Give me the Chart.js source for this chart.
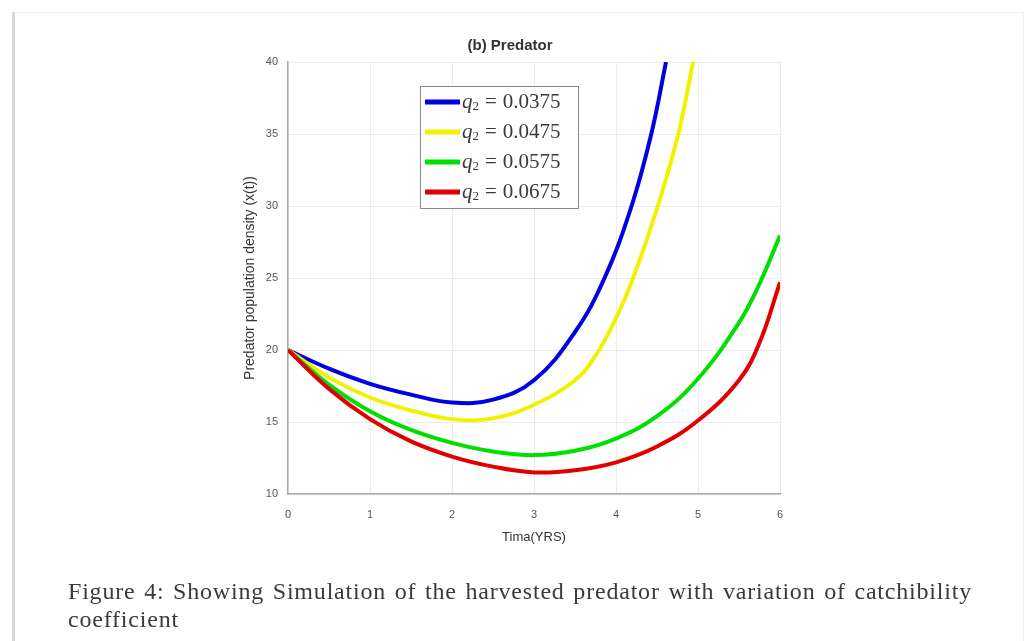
<!DOCTYPE html>
<html>
<head>
<meta charset="utf-8">
<script src="https://cdn.jsdelivr.net/npm/chart.js@4.4.1/dist/chart.umd.min.js"></script>
<style>
  html, body { margin: 0; padding: 0; background: #fff; }
  body { width: 1027px; height: 641px; position: relative; overflow: hidden; }
  #frame {
    position: absolute; left: 12px; top: 12px; width: 1012px; height: 640px;
    border-top: 1px solid #ebebeb; border-left: 3px solid #d6d6d6; border-right: 1px solid #f0f0f0;
    box-sizing: border-box; background: #fff;
  }
  #wrap { position: absolute; left: 0; top: 0; width: 1027px; height: 641px; }
  #caption {
    position: absolute; left: 68px; top: 577px; width: 904px;
    font-family: "Liberation Serif", "DejaVu Serif", serif; font-size: 24px; line-height: 28px;
    letter-spacing: 0.8px; color: #3a3a3a;
  }
  #caption .l1 { text-align: justify; text-align-last: justify; white-space: nowrap; }
</style>
</head>
<body>
<div id="frame"></div>
<div id="wrap"><canvas id="predator-canvas"></canvas></div>
<div id="caption">
  <div class="l1">Figure 4: Showing Simulation of the harvested predator with variation of catchibility</div>
  <div>coefficient</div>
</div>
<script>
// catchability coefficients q2
var qValues = ['0.0375', '0.0475', '0.0575', '0.0675'];
var lineColors = ['#0000e0', '#f2f200', '#00e000', '#e00000'];

// time (years) and predator density
var tBlue = [0, 0.5, 1, 1.5, 2, 2.5, 3, 3.5, 3.86, 4.19, 4.43, 4.61];
var yBlue = [20, 18.7, 17.65, 16.9, 16.35, 16.55, 17.9, 21.25, 25, 30, 35, 40];

var tYellow = [0, 0.5, 1, 1.5, 2, 2.5, 3, 3.5, 3.75, 4, 4.21, 4.51, 4.76, 4.94];
var yYellow = [20, 18.1, 16.7, 15.8, 15.2, 15.25, 16.2, 17.9, 19.6, 22.2, 25, 30, 35, 40];

var tGreen = [0, 0.5, 1, 1.5, 2, 2.5, 3, 3.5, 4, 4.5, 5, 5.5, 5.75, 6];
var yGreen = [20, 17.6, 15.75, 14.45, 13.55, 12.95, 12.7, 13.0, 13.85, 15.4, 18.0, 21.9, 24.6, 27.95];

var tRed = [0, 0.5, 1, 1.5, 2, 2.5, 3, 3.5, 4, 4.5, 5, 5.5, 5.75, 6];
var yRed = [20, 17.3, 15.2, 13.65, 12.6, 11.9, 11.5, 11.65, 12.2, 13.3, 15.1, 17.9, 20.5, 24.7];

var xTicks = [0, 1, 2, 3, 4, 5, 6];
var yTicks = [10, 15, 20, 25, 30, 35, 40];

function pts(t, y) {
    return t.map(function (v, i) { return { x: v, y: y[i] }; });
}

var series = [pts(tBlue, yBlue), pts(tYellow, yYellow), pts(tGreen, yGreen), pts(tRed, yRed)];

var datasets = series.map(function (d, i) {
    return {
        label: 'q2 = ' + qValues[i],
        data: d,
        borderColor: lineColors[i],
        borderWidth: 4,
        pointRadius: 0,
        fill: false,
        tension: 0.4,
        order: 4 - i
    };
});

// MATLAB style legend box inside the axes
var boxLegend = {
    id: 'boxLegend',
    afterDraw: function (chart) {
        var ctx = chart.ctx;
        var a = chart.chartArea;
        var x0 = a.left + 132, y0 = a.top + 24, w = 158, h = 122;
        ctx.save();
        ctx.fillStyle = '#fff';
        ctx.fillRect(x0, y0, w, h);
        ctx.strokeStyle = '#8a8a8a';
        ctx.lineWidth = 1;
        ctx.strokeRect(x0 + 0.5, y0 + 0.5, w, h);
        chart.data.datasets.forEach(function (ds, i) {
            var cy = y0 + 16 + i * 30;
            ctx.strokeStyle = ds.borderColor;
            ctx.lineWidth = 5;
            ctx.beginPath();
            ctx.moveTo(x0 + 5, cy);
            ctx.lineTo(x0 + 40, cy);
            ctx.stroke();
            ctx.fillStyle = '#3a3a3a';
            ctx.textBaseline = 'middle';
            var tx = x0 + 42;
            ctx.font = 'italic 21px "Liberation Serif", serif';
            ctx.fillText('q', tx, cy);
            tx += ctx.measureText('q').width;
            ctx.font = '13px "Liberation Serif", serif';
            ctx.fillText('2', tx, cy + 5);
            tx += ctx.measureText('2').width + 6;
            ctx.font = '21px "Liberation Serif", serif';
            ctx.fillText('=', tx, cy);
            tx += ctx.measureText('=').width + 6;
            ctx.fillText(qValues[i], tx, cy);
        });
        ctx.restore();
    }
};

new Chart('predator-canvas', {
    type: 'line',
    data: { datasets: datasets },
    plugins: [boxLegend],
    options: {
        responsive: true,
        maintainAspectRatio: false,
        animation: false,
        layout: { padding: { left: 240, right: 247, top: 37, bottom: 96 } },
        plugins: {
            legend: { display: false },
            tooltip: { enabled: false },
            title: {
                display: true,
                text: '(b) Predator',
                color: '#333',
                font: { family: 'Liberation Sans', size: 15, weight: 'bold' },
                padding: { top: 0, bottom: 7 }
            }
        },
        scales: {
            x: {
                type: 'linear',
                min: 0, max: 6,
                afterFit: function (s) { s.height = 51; },
                afterBuildTicks: function (s) { s.ticks = xTicks.map(function (v) { return { value: v }; }); },
                grid: { color: '#ececec', drawTicks: false },
                border: { color: '#a8a8a8', width: 1.5 },
                ticks: { color: '#555', font: { family: 'Liberation Sans', size: 11 }, padding: 14 },
                title: {
                    display: true, text: 'Tima(YRS)', color: '#333',
                    font: { family: 'Liberation Sans', size: 13 }, padding: { top: 0, bottom: 0 }
                }
            },
            y: {
                min: 10, max: 40,
                afterFit: function (s) { s.width = 48; },
                afterBuildTicks: function (s) { s.ticks = yTicks.map(function (v) { return { value: v }; }); },
                grid: { color: '#ececec', drawTicks: false },
                border: { color: '#a8a8a8', width: 1.5 },
                ticks: { color: '#555', font: { family: 'Liberation Sans', size: 11 }, padding: 10 },
                title: {
                    display: true, text: 'Predator population density (x(t))', color: '#333',
                    font: { family: 'Liberation Sans', size: 14 }, padding: { top: 2, bottom: 0 }
                }
            }
        }
    }
});
</script>
</body>
</html>
